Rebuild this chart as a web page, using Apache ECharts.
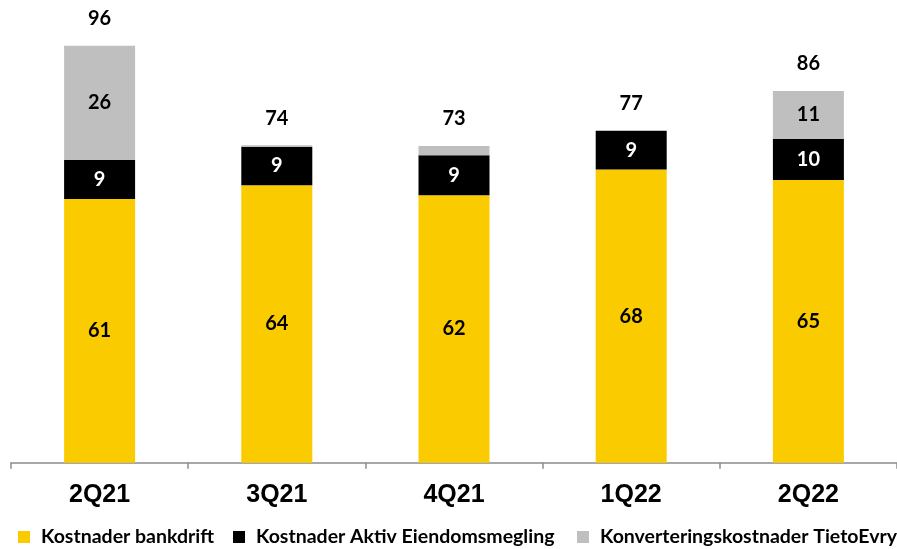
<!DOCTYPE html>
<html>
<head>
<meta charset="utf-8">
<script src="https://cdn.jsdelivr.net/npm/echarts@6/dist/echarts.min.js"></script>
<style>
html,body{margin:0;padding:0;background:#fff;}
#chart{width:897px;height:549px;}
</style>
</head>
<body>
<div id="chart"></div>
<script>
var categories = ['2Q21', '3Q21', '4Q21', '1Q22', '2Q22'];
var bankdrift = [60.7, 63.9, 61.6, 67.5, 65.1];
var aktiv = [9.0, 8.8, 9.2, 8.9, 9.5];
var tieto = [26.3, 0.4, 2.1, 0, 11.0];
var totals = [96, 74, 73, 77, 86];
var seriesNames = ['Kostnader bankdrift', 'Kostnader Aktiv Eiendomsmegling', 'Konverteringskostnader TietoEvry'];

var FONT = 'Lato';
var stackTop = categories.map(function (c, i) { return bankdrift[i] + aktiv[i] + tieto[i]; });

function segLabel(color) {
  return {
    show: true, position: 'inside', color: color, fontFamily: FONT,
    fontWeight: 'bold', fontSize: 20,
    formatter: function (p) { return p.value >= 5 ? Math.round(p.value) : ''; }
  };
}

function legendAt(left, name, size) {
  return {
    left: left, top: 522, itemWidth: 12, itemHeight: 12, icon: 'rect',
    data: [name], selectedMode: false,
    textStyle: { fontFamily: FONT, fontWeight: 'bold', fontSize: size, color: '#000', padding: [0, 0, 0, 6] }
  };
}

var chart = echarts.init(document.getElementById('chart'), null, { renderer: 'canvas' });
chart.setOption({
  animation: false,
  backgroundColor: '#fff',
  grid: { left: 11, right: 0, top: 45.7, bottom: 86.3, containLabel: false },
  legend: [legendAt(13, seriesNames[0], 19.5), legendAt(228, seriesNames[1], 19.5), legendAt(572, seriesNames[2], 19.5)],
  xAxis: {
    type: 'category', data: categories,
    axisLine: { lineStyle: { color: '#8c8c8c', width: 1.5 } },
    axisTick: { show: true, length: 6, lineStyle: { color: '#8c8c8c', width: 1.5 } },
    axisLabel: { fontFamily: 'Liberation Sans', fontWeight: 'bold', fontSize: 25, color: '#000', margin: 20 }
  },
  yAxis: { type: 'value', min: 0, max: 96, show: false, splitLine: { show: false } },
  series: [
    { name: seriesNames[0], type: 'bar', stack: 's', data: bankdrift, barWidth: 71,
      itemStyle: { color: '#FACC00' }, label: segLabel('#000') },
    { name: seriesNames[1], type: 'bar', stack: 's', data: aktiv,
      itemStyle: { color: '#000000' }, label: segLabel('#ffffff') },
    { name: seriesNames[2], type: 'bar', stack: 's', data: tieto,
      itemStyle: { color: '#BFBFBF' }, label: segLabel('#000') },
    { name: 'total', type: 'scatter', data: stackTop, symbolSize: 0, silent: true,
      itemStyle: { opacity: 1 },
      label: { show: true, position: 'top', distance: 17, fontFamily: FONT, fontWeight: 'bold', fontSize: 20, color: '#000',
        formatter: function (p) { return totals[p.dataIndex]; } } }
  ]
});
</script>
</body>
</html>
